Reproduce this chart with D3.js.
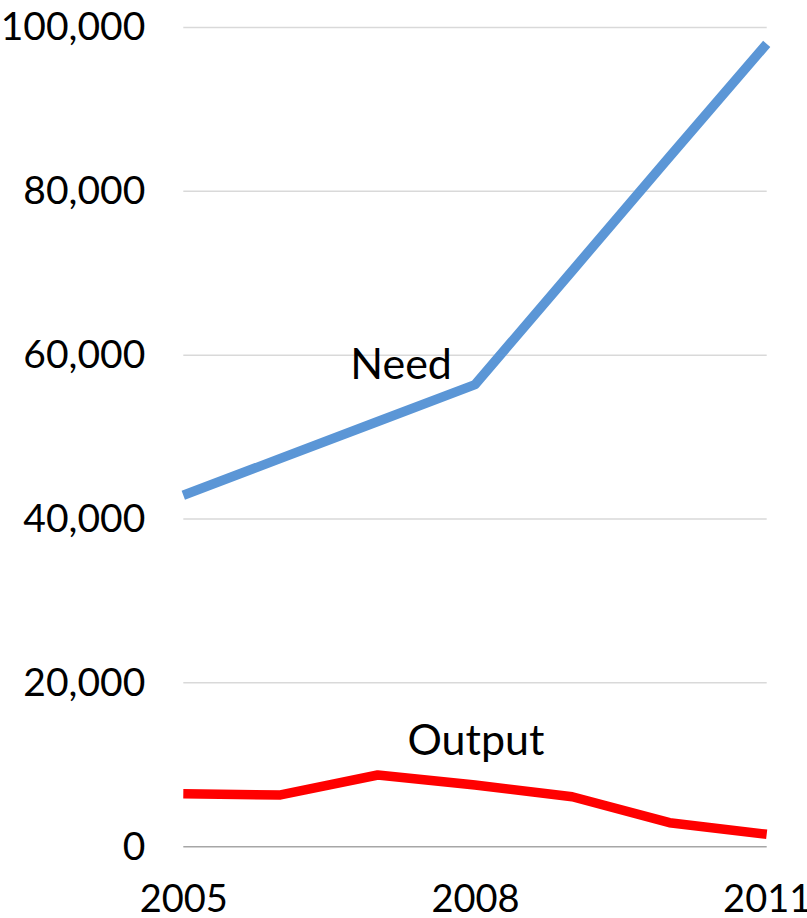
<!DOCTYPE html>
<html>
<head>
<meta charset="utf-8">
<script src="https://cdn.jsdelivr.net/npm/d3@7"></script>
<style>
  body { margin: 0; background: #fff; }
  text { font-family: Lato, "Open Sans", sans-serif; fill: #000; }
</style>
</head>
<body>
<div id="chart"></div>
<script>
// Need vs Output line chart

var years = [2005, 2006, 2007, 2008, 2009, 2010, 2011];
var needValues = [42900, 47400, 51900, 56400, 70300, 84200, 98000];
var outputValues = [6450, 6320, 8750, 7530, 6100, 2930, 1510];
var yTicks = [0, 20000, 40000, 60000, 80000, 100000];
var xTickLabels = [2005, 2008, 2011];

var svgWidth = 807,
    svgHeight = 918;

var margin = { left: 183.3, right: 40.3, top: 27.5, bottom: 71.3 };

var width = svgWidth - margin.left - margin.right,
    height = svgHeight - margin.top - margin.bottom;

var svg = d3.select("#chart")
    .append("svg")
        .attr("width", svgWidth)
        .attr("height", svgHeight);

var g = svg.append("g")
    .attr("transform", `translate(${margin.left}, ${margin.top})`);

var x = d3.scaleLinear()
    .domain([2005, 2011])
    .range([0, width]);

var y = d3.scaleLinear()
    .domain([0, 100000])
    .range([height, 0]);

// gridlines
g.append("g")
    .selectAll("line")
    .data(yTicks)
    .enter()
    .append("line")
        .attr("x1", 0)
        .attr("x2", width)
        .attr("y1", d => y(d))
        .attr("y2", d => y(d))
        .attr("stroke", d => d === 0 ? "#a6a6a6" : "#d9d9d9")
        .attr("stroke-width", 1.5);

// y axis labels
var yAxis = d3.axisLeft(y)
    .tickValues(yTicks)
    .tickFormat(d3.format(","))
    .tickSize(0)
    .tickPadding(38);

var yAxisGroup = g.append("g").call(yAxis);
yAxisGroup.select(".domain").remove();
yAxisGroup.selectAll("text")
    .attr("font-family", "Lato, sans-serif")
    .attr("font-size", "39px")
    .attr("fill", "#000");

// x axis labels
var xAxis = d3.axisBottom(x)
    .tickValues(xTickLabels)
    .tickFormat(d3.format("d"))
    .tickSize(0)
    .tickPadding(38);

var xAxisGroup = g.append("g")
    .attr("transform", `translate(0, ${height})`)
    .call(xAxis);
xAxisGroup.select(".domain").remove();
xAxisGroup.selectAll("text")
    .attr("font-family", "Lato, sans-serif")
    .attr("font-size", "38px")
    .attr("fill", "#000");

var line = d3.line()
    .x((d, i) => x(years[i]))
    .y(d => y(d));

g.append("path")
    .datum(needValues)
    .attr("d", line)
    .attr("fill", "none")
    .attr("stroke", "#5b96d6")
    .attr("stroke-width", 9.5)
    .attr("stroke-linejoin", "round")
    .attr("stroke-linecap", "butt");

g.append("path")
    .datum(outputValues)
    .attr("d", line)
    .attr("fill", "none")
    .attr("stroke", "#ff0000")
    .attr("stroke-width", 9.5)
    .attr("stroke-linejoin", "round")
    .attr("stroke-linecap", "butt");

// series labels
g.append("text")
    .attr("x", x(2007.24))
    .attr("y", y(57100))
    .attr("text-anchor", "middle")
    .attr("font-size", "43px")
    .text("Need");

g.append("text")
    .attr("x", x(2008.01))
    .attr("y", y(11200))
    .attr("text-anchor", "middle")
    .attr("font-size", "43px")
    .text("Output");
</script>
</body>
</html>
